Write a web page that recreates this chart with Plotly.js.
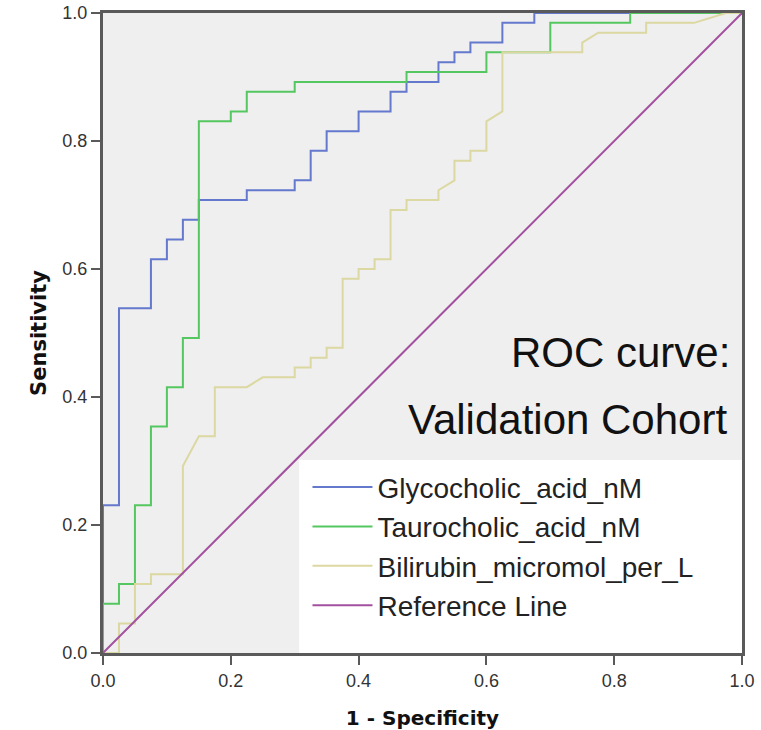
<!DOCTYPE html>
<html>
<head>
<meta charset="utf-8">
<script src="https://cdn.plot.ly/plotly-3.0.1.min.js"></script>
<style>
  html, body { margin: 0; padding: 0; background: #ffffff; }
  #chart { width: 761px; height: 730px; }
</style>
</head>
<body>
<div id="chart"></div>
<script>
// ROC coordinates (1 - Specificity, Sensitivity)
const seriesNames = ["Glycocholic_acid_nM", "Taurocholic_acid_nM", "Bilirubin_micromol_per_L", "Reference Line"];

const glycoFPR = [0,0,0.025,0.025,0.075,0.075,0.1,0.1,0.125,0.125,0.15,0.15,0.225,0.225,0.3,0.3,0.325,0.325,0.35,0.35,0.4,0.4,0.45,0.45,0.475,0.475,0.525,0.525,0.55,0.55,0.575,0.575,0.625,0.625,0.675,0.675,1];
const glycoTPR = [0,0.2308,0.2308,0.5385,0.5385,0.6154,0.6154,0.6462,0.6462,0.6769,0.6769,0.7077,0.7077,0.7231,0.7231,0.7385,0.7385,0.7846,0.7846,0.8154,0.8154,0.8462,0.8462,0.8769,0.8769,0.8923,0.8923,0.9231,0.9231,0.9385,0.9385,0.9538,0.9538,0.9846,0.9846,1,1];

const tauroFPR = [0,0,0.025,0.025,0.05,0.05,0.075,0.075,0.1,0.1,0.125,0.125,0.15,0.15,0.2,0.2,0.225,0.225,0.3,0.3,0.475,0.475,0.6,0.6,0.7,0.7,0.825,0.825,1];
const tauroTPR = [0,0.0769,0.0769,0.1077,0.1077,0.2308,0.2308,0.3538,0.3538,0.4154,0.4154,0.4923,0.4923,0.8308,0.8308,0.8462,0.8462,0.8769,0.8769,0.8923,0.8923,0.9077,0.9077,0.9385,0.9385,0.9846,0.9846,1,1];

const biliFPR = [0,0.025,0.025,0.05,0.05,0.075,0.075,0.125,0.125,0.15,0.175,0.175,0.225,0.25,0.3,0.3,0.325,0.325,0.35,0.35,0.375,0.375,0.4,0.4,0.425,0.425,0.45,0.45,0.475,0.475,0.525,0.525,0.55,0.55,0.575,0.575,0.6,0.6,0.625,0.625,0.75,0.75,0.775,0.85,0.85,0.925,0.975,1];
const biliTPR = [0,0,0.0462,0.0462,0.1077,0.1077,0.1231,0.1231,0.2923,0.3385,0.3385,0.4154,0.4154,0.4308,0.4308,0.4462,0.4462,0.4615,0.4615,0.4769,0.4769,0.5846,0.5846,0.6,0.6,0.6154,0.6154,0.6923,0.6923,0.7077,0.7077,0.7231,0.7385,0.7692,0.7692,0.7846,0.7846,0.8308,0.8462,0.9385,0.9385,0.9538,0.9692,0.9692,0.9846,0.9846,1,1];

const refFPR = [0, 1];
const refTPR = [0, 1];

const tickVals = [0, 0.2, 0.4, 0.6, 0.8, 1.0];
const tickText = ["0.0", "0.2", "0.4", "0.6", "0.8", "1.0"];
const annotationLines = ["ROC curve:", "Validation Cohort"];

const colors = ["#6479cd", "#55c760", "#dcd8a2", "#a2509f"];

function mk(x, y, i) {
  return {
    x: x, y: y, type: "scatter", mode: "lines", name: seriesNames[i],
    line: { color: colors[i], width: 2 }, hoverinfo: "x+y"
  };
}

const data = [
  mk(glycoFPR, glycoTPR, 0),
  mk(tauroFPR, tauroTPR, 1),
  mk(biliFPR, biliTPR, 2),
  mk(refFPR, refTPR, 3)
];

const axisCommon = {
  range: [0, 1], tickvals: tickVals, ticktext: tickText,
  showgrid: false, zeroline: false,
  showline: true, mirror: true, linecolor: "#5a5a5a", linewidth: 3,
  ticks: "outside", ticklen: 9, tickwidth: 2, tickcolor: "#5a5a5a",
  tickfont: { family: "Liberation Sans, Arial, sans-serif", size: 18, color: "#333333" },
  fixedrange: true
};

const layout = {
  width: 761, height: 730,
  margin: { l: 103, r: 19, t: 13, b: 77 },
  paper_bgcolor: "#ffffff",
  plot_bgcolor: "#efefef",
  showlegend: true,
  legend: {
    x: 0.32, y: 0.298, xanchor: "left", yanchor: "top",
    bgcolor: "rgba(0,0,0,0)", borderwidth: 0,
    font: { family: "Liberation Sans, Arial, sans-serif", size: 28, color: "#222222" },
    itemwidth: 60, traceorder: "normal"
  },
  xaxis: Object.assign({}, axisCommon, {
    title: { text: "1 - Specificity", font: { family: "DejaVu Sans, sans-serif", size: 20, color: "#111111", weight: "bold" } }
  }),
  yaxis: Object.assign({}, axisCommon, {
    automargin: "left",
    title: { text: "Sensitivity", standoff: 11, font: { family: "DejaVu Sans, sans-serif", size: 21, color: "#111111", weight: "bold" } }
  }),
  shapes: [{
    type: "rect", xref: "x", yref: "y", x0: 0.307, x1: 1, y0: 0, y1: 0.3016,
    fillcolor: "#ffffff", line: { width: 0 }, layer: "above"
  }],
  annotations: [
    { text: annotationLines[0], xref: "paper", yref: "paper", x: 0.984, y: 0.469, xanchor: "right", yanchor: "middle", showarrow: false,
      font: { family: "Liberation Sans, Arial, sans-serif", size: 42, color: "#111111" } },
    { text: annotationLines[1], xref: "paper", yref: "paper", x: 0.98, y: 0.365, xanchor: "right", yanchor: "middle", showarrow: false,
      font: { family: "Liberation Sans, Arial, sans-serif", size: 42, color: "#111111" } }
  ]
};

Plotly.newPlot("chart", data, layout, { displayModeBar: false, staticPlot: true });
</script>
</body>
</html>
